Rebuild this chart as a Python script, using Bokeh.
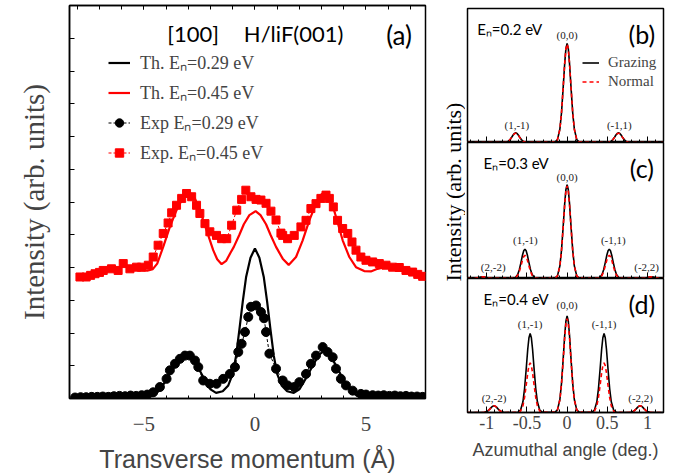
import math
from bokeh.plotting import figure
from bokeh.layouts import row, column
from bokeh.models import (Range1d, LinearAxis, SingleIntervalTicker, Legend, LegendItem,
                          CustomJSTickFormatter)
from bokeh.core.properties import value
from bokeh.embed import file_html
from bokeh.resources import INLINE

SERIF = "Liberation Serif"
SANS = "Lato"
ARIAL = "Liberation Sans"
RED = "#ff0000"

# ---------------- panel (a) data ----------------
th029_x = [-8.2, -6.0, -5.0, -4.6, -4.3, -4.0, -3.7, -3.4, -3.1, -2.9, -2.6, -2.3, -2.0, -1.75, -1.45,
           -1.2, -1.0, -0.85, -0.7, -0.55, -0.4, -0.2, 0.0, 0.2, 0.4, 0.55, 0.7, 0.85, 1.0, 1.2, 1.45,
           1.75, 2.0, 2.3, 2.6, 2.9, 3.1, 3.4, 3.7, 4.0, 4.3, 4.6, 5.0, 6.0, 7.6]
th029_y = [0.0, 0.0, 0.02, 0.08, 0.25, 0.55, 0.9, 1.2, 1.33, 1.3, 1.0, 0.62, 0.28, 0.17, 0.22,
           0.4, 0.75, 1.3, 2.1, 2.95, 3.7, 4.3, 4.58, 4.3, 3.7, 2.95, 2.1, 1.3, 0.75, 0.4, 0.22,
           0.17, 0.28, 0.62, 1.0, 1.35, 1.45, 1.3, 0.95, 0.55, 0.25, 0.08, 0.02, 0.0, 0.0]

th045_x = [-5.5, -5.2, -4.85, -4.6, -4.4, -4.13, -3.83, -3.53, -3.3, -3.15, -3.0, -2.85, -2.7, -2.48,
           -2.18, -1.88, -1.7, -1.5, -1.3, -1.1, -0.95, -0.7, -0.5, -0.25, 0.03, 0.25, 0.5, 0.7, 0.95,
           1.25, 1.52, 1.85, 2.15, 2.45, 2.75, 2.9, 3.08, 3.25, 3.4, 3.65, 3.95, 4.25, 4.55, 4.92,
           5.22, 5.52, 5.8]
th045_y = [3.96, 3.92, 3.9, 3.95, 4.12, 4.63, 5.24, 5.75, 6.05, 6.21, 6.28, 6.24, 6.1, 5.75,
           5.14, 4.53, 4.25, 4.1, 4.2, 4.45, 4.63, 5.0, 5.32, 5.6, 5.72, 5.6, 5.32, 5.0, 4.63,
           4.27, 4.08, 4.32, 4.83, 5.44, 5.95, 6.18, 6.28, 6.22, 6.1, 5.55, 4.83, 4.32, 4.01, 3.89,
           3.88, 3.96, 4.0]

exp029_x = [-8.1, -7.85, -7.6, -7.35, -7.1, -6.85, -6.6, -6.35, -6.1, -5.85, -5.6, -5.35, -5.1, -4.85,
            -4.58, -4.28, -3.98, -3.83, -3.6, -3.38, -3.15, -2.93, -2.7, -2.55, -2.33, -2.03, -1.73,
            -1.43, -1.13, -0.9, -0.75, -0.6, -0.45, -0.3, -0.18, 0.05, 0.27, 0.41, 0.5, 0.65, 0.95,
            1.25, 1.47, 1.77, 2.0, 2.3, 2.52, 2.75, 3.05, 3.27, 3.5, 3.65, 3.87, 4.1, 4.4, 4.77, 5.0,
            5.3, 5.55, 5.8, 6.05, 6.3, 6.55, 6.8, 7.05, 7.3, 7.55]
exp029_y = [0.03, 0.04, 0.04, 0.05, 0.05, 0.06, 0.05, 0.07, 0.08, 0.07, 0.09, 0.08, 0.1, 0.12,
            0.19, 0.35, 0.6, 0.86, 1.06, 1.21, 1.31, 1.31, 1.16, 0.96, 0.55, 0.45, 0.45,
            0.6, 0.75, 0.96, 1.42, 1.67, 2.03, 2.49, 2.8, 2.84, 2.64, 2.45, 2.03, 1.37, 0.91,
            0.55, 0.4, 0.35, 0.5, 0.75, 1.06, 1.31, 1.57, 1.42, 1.26, 0.91, 0.6, 0.4, 0.24, 0.14, 0.12,
            0.1, 0.09, 0.1, 0.08, 0.09, 0.07, 0.08, 0.06, 0.06, 0.05]

exp045_x = [-7.88, -7.6, -7.4, -7.2, -7.0, -6.83, -6.46, -6.16, -5.93, -5.63, -5.33, -5.11, -4.8,
            -4.58, -4.36, -4.13, -3.91, -3.75, -3.53, -3.3, -3.08, -2.85, -2.63, -2.48, -2.25, -2.03,
            -1.73, -1.5, -1.27, -1.05, -0.82, -0.6, -0.41, -0.18, 0.05, 0.27, 0.5, 0.72, 0.95, 1.17,
            1.25, 1.47, 1.77, 2.07, 2.3, 2.52, 2.75, 2.97, 3.2, 3.35, 3.53, 3.72, 3.95, 4.18, 4.37,
            4.55, 4.77, 5.0, 5.3, 5.6, 5.9, 6.2, 6.5, 6.8, 7.1, 7.33, 7.55]
exp045_y = [3.71, 3.71, 3.76, 3.81, 3.85, 3.91, 3.96, 3.91, 4.12, 3.96, 4.01, 4.01, 4.07,
            4.32, 4.68, 5.04, 5.36, 5.67, 5.9, 6.11, 6.26, 6.16, 5.9, 5.65, 5.34, 5.09,
            4.98, 4.88, 4.88, 5.29, 5.75, 6.08, 6.36, 6.16, 6.08, 6.06, 5.96, 5.72, 5.45, 5.05,
            4.98, 4.88, 4.98, 5.24, 5.44, 5.8, 5.95, 6.11, 6.21, 6.11, 5.85, 5.44, 5.19, 5.04, 4.78,
            4.53, 4.32, 4.22, 4.17, 4.12, 4.07, 4.01, 4.0, 3.91, 3.86, 3.79, 3.73]

legend_a = ["Th. E\u2099=0.29 eV", "Th. E\u2099=0.45 eV", "Exp E\u2099=0.29 eV", "Exp. E\u2099=0.45 eV"]

# ---------------- panels (b)-(d) data ----------------
xb = [-1.24, -0.79, -0.76, -0.73, -0.71, -0.69, -0.67, -0.655, -0.64, -0.625, -0.61, -0.59, -0.57, -0.55, -0.52, -0.49,
      -0.15, -0.12, -0.09, -0.07, -0.05, -0.03, -0.015, 0.0, 0.015, 0.03, 0.05, 0.07, 0.09, 0.12, 0.15,
      0.49, 0.52, 0.55, 0.57, 0.59, 0.61, 0.625, 0.64, 0.655, 0.67, 0.69, 0.71, 0.73, 0.76, 0.79, 1.2]
graz_b = [0.0, 0.0, 0.002, 0.01, 0.022, 0.039, 0.058, 0.068, 0.072, 0.068, 0.058, 0.039, 0.022, 0.01, 0.002, 0.0,
          0.003, 0.021, 0.10, 0.22, 0.40, 0.59, 0.70, 0.74, 0.70, 0.59, 0.40, 0.22, 0.10, 0.021, 0.003,
          0.0, 0.002, 0.01, 0.022, 0.039, 0.058, 0.068, 0.072, 0.068, 0.058, 0.039, 0.022, 0.01, 0.002, 0.0, 0.0]
norm_b = [0.0, 0.0, 0.002, 0.01, 0.021, 0.038, 0.056, 0.066, 0.07, 0.066, 0.056, 0.038, 0.021, 0.01, 0.002, 0.0,
          0.003, 0.021, 0.10, 0.22, 0.40, 0.59, 0.70, 0.735, 0.70, 0.59, 0.40, 0.22, 0.10, 0.021, 0.003,
          0.0, 0.002, 0.01, 0.021, 0.038, 0.056, 0.066, 0.07, 0.066, 0.056, 0.038, 0.021, 0.01, 0.002, 0.0, 0.0]

xc = [-1.24, -1.14, -1.10, -1.075, -1.05, -1.025, -1.0, -0.96,
      -0.675, -0.645, -0.615, -0.595, -0.575, -0.555, -0.54, -0.525, -0.51, -0.495, -0.475, -0.455, -0.435, -0.405, -0.375,
      -0.15, -0.12, -0.09, -0.07, -0.05, -0.03, -0.015, 0.0, 0.015, 0.03, 0.05, 0.07, 0.09, 0.12, 0.15,
      0.375, 0.405, 0.435, 0.455, 0.475, 0.495, 0.51, 0.525, 0.54, 0.555, 0.575, 0.595, 0.615, 0.645, 0.675,
      0.96, 1.0, 1.025, 1.05, 1.075, 1.10, 1.14, 1.2]
graz_c = [0.0, 0.002, 0.007, 0.01, 0.012, 0.01, 0.007, 0.002,
          0.001, 0.006, 0.029, 0.065, 0.117, 0.173, 0.204, 0.216, 0.204, 0.173, 0.117, 0.065, 0.029, 0.006, 0.001,
          0.003, 0.019, 0.093, 0.207, 0.373, 0.552, 0.653, 0.69, 0.653, 0.552, 0.373, 0.207, 0.093, 0.019, 0.003,
          0.001, 0.006, 0.029, 0.065, 0.117, 0.173, 0.204, 0.216, 0.204, 0.173, 0.117, 0.065, 0.029, 0.006, 0.001,
          0.002, 0.007, 0.01, 0.012, 0.01, 0.007, 0.002, 0.0]
norm_c = [0.0, 0.002, 0.007, 0.01, 0.012, 0.01, 0.007, 0.002,
          0.001, 0.005, 0.023, 0.051, 0.092, 0.136, 0.161, 0.17, 0.161, 0.136, 0.092, 0.051, 0.023, 0.005, 0.001,
          0.003, 0.019, 0.092, 0.204, 0.367, 0.544, 0.643, 0.68, 0.643, 0.544, 0.367, 0.204, 0.092, 0.019, 0.003,
          0.001, 0.005, 0.023, 0.051, 0.092, 0.136, 0.161, 0.17, 0.161, 0.136, 0.092, 0.051, 0.023, 0.005, 0.001,
          0.002, 0.007, 0.01, 0.012, 0.01, 0.007, 0.002, 0.0]

xd = [-1.24, -1.06, -1.03, -1.0, -0.98, -0.96, -0.94, -0.925, -0.91, -0.895, -0.88, -0.86, -0.84, -0.82, -0.79, -0.76,
      -0.61, -0.58, -0.55, -0.53, -0.51, -0.49, -0.475, -0.46, -0.445, -0.43, -0.41, -0.39, -0.37, -0.34, -0.31,
      -0.15, -0.12, -0.09, -0.07, -0.05, -0.03, -0.015, 0.0, 0.015, 0.03, 0.05, 0.07, 0.09, 0.12, 0.15,
      0.31, 0.34, 0.37, 0.39, 0.41, 0.43, 0.445, 0.46, 0.475, 0.49, 0.51, 0.53, 0.55, 0.58, 0.61,
      0.76, 0.79, 0.82, 0.84, 0.86, 0.88, 0.895, 0.91, 0.925, 0.94, 0.96, 0.98, 1.0, 1.03, 1.06, 1.2]
graz_d = [0.0, 0.0, 0.001, 0.007, 0.015, 0.027, 0.04, 0.047, 0.05, 0.047, 0.04, 0.027, 0.015, 0.007, 0.001, 0.0,
          0.002, 0.017, 0.08, 0.177, 0.319, 0.472, 0.558, 0.59, 0.558, 0.472, 0.319, 0.177, 0.08, 0.017, 0.002,
          0.003, 0.02, 0.097, 0.216, 0.389, 0.576, 0.681, 0.72, 0.681, 0.576, 0.389, 0.216, 0.097, 0.02, 0.003,
          0.002, 0.017, 0.08, 0.177, 0.319, 0.472, 0.558, 0.59, 0.558, 0.472, 0.319, 0.177, 0.08, 0.017, 0.002,
          0.0, 0.001, 0.007, 0.015, 0.027, 0.04, 0.047, 0.05, 0.047, 0.04, 0.027, 0.015, 0.007, 0.001, 0.0, 0.0]
norm_d = [0.0, 0.0, 0.001, 0.007, 0.015, 0.027, 0.04, 0.047, 0.05, 0.047, 0.04, 0.027, 0.015, 0.007, 0.001, 0.0,
          0.001, 0.01, 0.05, 0.111, 0.2, 0.296, 0.35, 0.37, 0.35, 0.296, 0.2, 0.111, 0.05, 0.01, 0.001,
          0.003, 0.02, 0.095, 0.21, 0.378, 0.56, 0.662, 0.70, 0.662, 0.56, 0.378, 0.21, 0.095, 0.02, 0.003,
          0.001, 0.01, 0.05, 0.111, 0.2, 0.296, 0.35, 0.37, 0.35, 0.296, 0.2, 0.111, 0.05, 0.01, 0.001,
          0.0, 0.001, 0.007, 0.015, 0.027, 0.04, 0.047, 0.05, 0.047, 0.04, 0.027, 0.015, 0.007, 0.001, 0.0, 0.0]

peaks_b = ["(1,-1)", "(0,0)", "(-1,1)"]
peaks_b_x = [-0.625, 0.0, 0.65]
peaks_b_y = [0.127, 0.80, 0.127]
peaks_c = ["(2,-2)", "(1,-1)", "(0,0)", "(-1,1)", "(-2,2)"]
peaks_c_x = [-0.92, -0.52, 0.0, 0.575, 0.99]
peaks_c_y = [0.083, 0.28, 0.75, 0.28, 0.083]
peaks_d = ["(2,-2)", "(1,-1)", "(0,0)", "(-1,1)", "(-2,2)"]
peaks_d_x = [-0.91, -0.46, 0.0, 0.46, 0.915]
peaks_d_y = [0.11, 0.66, 0.80, 0.66, 0.11]

energies = ["E\u2099=0.2 eV", "E\u2099=0.3 eV", "E\u2099=0.4 eV"]
tags = ["(b)", "(c)", "(d)"]
legend_b = ["Grazing", "Normal"]

blank = CustomJSTickFormatter(code="return '';")

# ---------------- panel (a) ----------------
p = figure(width=435, height=476, x_range=Range1d(-8.35, 7.68), y_range=Range1d(0, 12),
           output_backend="svg", toolbar_location=None,
           min_border_left=69, min_border_right=10, min_border_top=5, min_border_bottom=78)
p.grid.visible = False
p.outline_line_color = "black"
p.outline_line_width = 1.5
p.background_fill_color = "white"

xa = p.xaxis[0]
xa.ticker = SingleIntervalTicker(interval=5, num_minor_ticks=5)
xa.major_tick_in = 5
xa.major_tick_out = 0
xa.minor_tick_in = 3
xa.minor_tick_out = 0
xa.axis_line_width = 1.5
xa.major_label_text_font = SERIF
xa.major_label_text_font_size = "21px"
xa.major_label_standoff = 18
xa.axis_label = "Transverse momentum (\u00c5)"
xa.axis_label_text_font = ARIAL
xa.axis_label_text_font_size = "25px"
xa.axis_label_text_font_style = "normal"
xa.axis_label_standoff = 11

ya = p.yaxis[0]
ya.ticker = SingleIntervalTicker(interval=1, num_minor_ticks=0)
ya.formatter = blank
ya.major_tick_in = 5
ya.major_tick_out = 0
ya.minor_tick_in = 0
ya.minor_tick_out = 0
ya.axis_line_width = 1.5
ya.major_label_text_font_size = "1px"
ya.major_label_standoff = 0
ya.axis_label = "Intensity (arb. units)"
ya.axis_label_text_font = SERIF
ya.axis_label_text_font_size = "29px"
ya.axis_label_text_font_style = "normal"
ya.axis_label_standoff = 20

top = LinearAxis(ticker=SingleIntervalTicker(interval=5, num_minor_ticks=5), formatter=blank,
                 major_label_text_font_size="1px", major_label_standoff=0,
                 major_tick_in=4, major_tick_out=0, minor_tick_in=4, minor_tick_out=0,
                 axis_line_width=1.5)
p.add_layout(top, "above")

r_th1 = p.line(th029_x, th029_y, line_color="black", line_width=2.2)
r_th2 = p.line(th045_x, th045_y, line_color=RED, line_width=2.2)
r_e1l = p.line(exp029_x, exp029_y, line_color="black", line_width=1, line_dash="3 2")
r_e1s = p.scatter(exp029_x, exp029_y, marker="circle", size=9, fill_color="black", line_color="black")
r_e2l = p.line(exp045_x, exp045_y, line_color=RED, line_width=1, line_dash="3 2")
r_e2s = p.scatter(exp045_x, exp045_y, marker="square", size=8, fill_color=RED, line_color=RED)

leg = Legend(items=[LegendItem(label=legend_a[0], renderers=[r_th1]),
                    LegendItem(label=legend_a[1], renderers=[r_th2]),
                    LegendItem(label=legend_a[2], renderers=[r_e1l, r_e1s]),
                    LegendItem(label=legend_a[3], renderers=[r_e2l, r_e2s])],
             location=(39, 234), background_fill_alpha=0, border_line_alpha=0,
             padding=0, margin=0, spacing=6, glyph_width=22, glyph_height=21, label_height=21,
             label_standoff=10, label_text_font=SERIF, label_text_font_size="18px")
p.add_layout(leg)

p.text(x=[-3.95], y=[11.16], text=["[100]"], text_font=value(SANS), text_font_size="22px",
       text_align="left", text_baseline="middle")
p.text(x=[-0.5], y=[11.16], text=["H/liF(001)"], text_font=value(SANS), text_font_size="22px",
       text_align="left", text_baseline="middle")
p.text(x=[6.49], y=[11.1], text=["(a)"], text_font=value(SANS), text_font_size="26px",
       text_align="center", text_baseline="middle")

# ---------------- side label ----------------
lab = figure(width=30, height=476, x_range=Range1d(0, 30), y_range=Range1d(0, 476),
             output_backend="svg", toolbar_location=None, x_axis_type=None, y_axis_type=None,
             min_border=0)
lab.grid.visible = False
lab.outline_line_color = None
lab.text(x=[18], y=[476 - 226], text=["Intensity (arb. units)"], angle=math.pi / 2,
         text_font=value(SERIF), text_font_size="22px", text_align="center", text_baseline="middle")

# ---------------- panels (b)-(d) ----------------
fmt = CustomJSTickFormatter(code="return String(Math.round(tick * 10) / 10);")


def panel(x, yg, yn, names, px, py, en, tag, height, mtop, mbot, bottom):
    f = figure(width=213, height=height, x_range=Range1d(-1.24, 1.2), y_range=Range1d(0, 1),
               output_backend="svg", toolbar_location=None,
               min_border_left=2, min_border_right=15, min_border_top=mtop, min_border_bottom=mbot)
    f.grid.visible = False
    f.outline_line_color = "black"
    f.outline_line_width = 1.5
    f.yaxis.visible = False
    ax = f.xaxis[0]
    ax.ticker = SingleIntervalTicker(interval=0.5, num_minor_ticks=5)
    ax.major_tick_in = 6
    ax.major_tick_out = 0
    ax.minor_tick_in = 3
    ax.minor_tick_out = 0
    ax.axis_line_width = 1.5
    if bottom:
        ax.formatter = fmt
        ax.major_label_text_font = SERIF
        ax.major_label_text_font_size = "18px"
        ax.major_label_standoff = 3
        ax.axis_label = "Azumuthal angle (deg.)"
        ax.axis_label_text_font = ARIAL
        ax.axis_label_text_font_size = "18px"
        ax.axis_label_text_font_style = "normal"
        ax.axis_label_standoff = 8
    else:
        ax.formatter = blank
        ax.major_label_text_font_size = "1px"
        ax.major_label_standoff = 0
    rg = f.line(x, yg, line_color="black", line_width=1.6)
    rn = f.line(x, yn, line_color=RED, line_width=1.6, line_dash="4 3")
    f.text(x=px, y=py, text=names, text_font=value(SERIF), text_font_size="11px",
           text_align="center", text_baseline="middle", text_color="#222222")
    f.text(x=[-1.12 if tag == "(b)" else -1.04], y=[0.85], text=[en], text_font=value(SANS),
           text_font_size="15px", text_align="left", text_baseline="middle")
    f.text(x=[0.93], y=[0.81], text=[tag], text_font=value(SANS), text_font_size="25px",
           text_align="center", text_baseline="middle")
    return f, rg, rn


pb, rgb, rnb = panel(xb, graz_b, norm_b, peaks_b, peaks_b_x, peaks_b_y, energies[0], tags[0], 142, 8, 0, False)
pc, _, _ = panel(xc, graz_c, norm_c, peaks_c, peaks_c_x, peaks_c_y, energies[1], tags[1], 136, 0, 0, False)
pd_, _, _ = panel(xd, graz_d, norm_d, peaks_d, peaks_d_x, peaks_d_y, energies[2], tags[2], 198, 0, 64, True)

legb = Legend(items=[LegendItem(label=legend_b[0], renderers=[rgb]),
                     LegendItem(label=legend_b[1], renderers=[rnb])],
              location=(115, 52), background_fill_alpha=0, border_line_alpha=0,
              padding=0, margin=0, spacing=2, glyph_width=17, glyph_height=17, label_height=17,
              label_standoff=9, label_text_font=SERIF, label_text_font_size="15px")
pb.add_layout(legb)

layout = row(p, lab, column(pb, pc, pd_))
open("out.html", "w").write(file_html(layout, INLINE))
